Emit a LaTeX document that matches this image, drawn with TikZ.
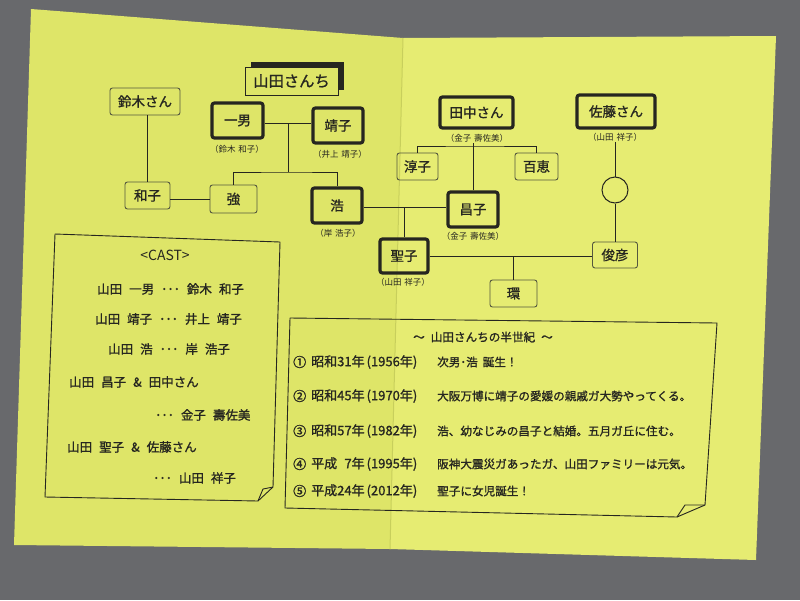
\documentclass[tikz,border=0pt]{standalone}
\usepackage{fontspec}
\newfontfamily\jp{Noto Sans CJK JP}
\newfontfamily\jpb[FakeBold=1.2]{Noto Sans CJK JP}
\usetikzlibrary{calc}
\definecolor{bg}{RGB}{104,105,108}
\definecolor{paperL}{RGB}{222,229,104}
\definecolor{paperR}{RGB}{230,236,114}
\definecolor{foldc}{RGB}{200,207,92}
\definecolor{ink}{RGB}{38,38,32}
\definecolor{thin}{RGB}{85,88,62}
\newcommand\jgap{\hspace{7pt}}
\begin{document}
\begin{tikzpicture}[x=1pt,y=-1pt,
  thickbox/.style={draw=ink, line width=3.2pt, rounded corners=2.5pt, inner sep=0pt, font=\jpb\fontsize{13.5}{14}\selectfont, text=ink},
  thinbox/.style={draw=thin, line width=0.9pt, rounded corners=2.5pt, inner sep=0pt, font=\jpb\fontsize{13.5}{14}\selectfont, text=ink},
  titlebox/.style={draw=ink, line width=0.9pt, inner sep=0pt, font=\jpb\fontsize{15.3}{16}\selectfont, text=ink, fill=paperL},
  sub/.style={font=\jp\fontsize{8.5}{9}\selectfont, text=ink, inner sep=1pt},
  link/.style={draw=ink, line width=1pt},
  castline/.style={anchor=west, font=\jpb\fontsize{12.5}{13}\selectfont, text=ink, inner sep=0pt},
  evt/.style={anchor=west, font=\jpb\fontsize{11.6}{12}\selectfont, text=ink, inner sep=0pt},
  evdate/.style={anchor=west, font=\jpb\fontsize{13}{14}\selectfont, text=ink, inner sep=0pt},
  sheet/.style={draw=ink, line width=0.9pt, line join=round},
]
\useasboundingbox (0,0) rectangle (800,600);
\fill[bg] (0,0) rectangle (800,600);
% paper
\fill[paperL] (31,9) -- (403,38) -- (390,549) -- (14,545) -- cycle;
\fill[paperR] (403,38) -- (776,36) -- (756,560) -- (390,549) -- cycle;
\draw[foldc, line width=1pt] (403,38) -- (390,549);

% title
\fill[ink] (251,62) rectangle (344,90);
\node[titlebox, minimum width=93pt, minimum height=28pt] (title) at (291.5,81) {山田さんち};

% family nodes
\node[thinbox, minimum width=70pt, minimum height=27pt] (suzuki) at (145,101.5) {鈴木さん};
\node[thickbox, minimum width=51pt, minimum height=35pt] (kazuo) at (237.5,120.5) {一男};
\node[thickbox, minimum width=50pt, minimum height=35pt] (yasuko) at (338,125.5) {靖子};
\node[thinbox, minimum width=45pt, minimum height=27pt] (kazuko) at (147.5,195.5) {和子};
\node[thinbox, minimum width=47pt, minimum height=28pt] (tsuyoshi) at (233.5,199) {強};
\node[thickbox, minimum width=50pt, minimum height=35pt] (hiroshi) at (337,205.5) {浩};
\node[thickbox, minimum width=73pt, minimum height=31pt] (tanaka) at (476.5,112.5) {田中さん};
\node[thinbox, minimum width=41pt, minimum height=27pt] (junko) at (417.5,166.5) {淳子};
\node[thinbox, minimum width=43pt, minimum height=27pt] (momoe) at (536.5,166.5) {百恵};
\node[thickbox, minimum width=50pt, minimum height=35pt] (masako) at (473,209.5) {昌子};
\node[thickbox, minimum width=78pt, minimum height=33pt] (sato) at (616,111.5) {佐藤さん};
\node[draw=ink, line width=1pt, circle, minimum size=26pt, inner sep=0pt] (ring) at (615,190) {};
\node[thinbox, minimum width=45pt, minimum height=26pt] (toshihiko) at (615,255) {俊彦};
\node[thickbox, minimum width=48pt, minimum height=34pt] (seiko) at (404,256) {聖子};
\node[thinbox, minimum width=47pt, minimum height=27pt] (tamaki) at (513.5,293.5) {環};

% subtitles
\node[sub] (kazuosub) at (237,149) {（鈴木\hspace{3pt}和子）};
\node[sub] (yasukosub) at (340,154) {（井上\hspace{3pt}靖子）};
\node[sub] (hiroshisub) at (338,233) {（岸\hspace{3pt}浩子）};
\node[sub] (tanakasub) at (477,138) {（金子\hspace{3pt}壽佐美）};
\node[sub] (masakosub) at (473,236) {（金子\hspace{3pt}壽佐美）};
\node[sub] (seikosub) at (403,282) {（山田\hspace{3pt}祥子）};
\node[sub] (satosub) at (615,137) {（山田\hspace{3pt}祥子）};

% junction coordinates
\coordinate (m1) at (288,123);
\coordinate (m2) at (288,172);
\coordinate (m3) at (404,207);
\coordinate (m4) at (473,146);
\coordinate (m5) at (513.5,256);

% connectors
\draw[link] (m1 -| kazuo.east) -- (m1 -| yasuko.west);
\draw[link] (m1) -- (m2);
\draw[link] (tsuyoshi.north) |- (m2) -| (hiroshi.north);
\draw[link] (kazuko.north) -- (kazuko.north |- suzuki.south);
\draw[link] (kazuko.east |- tsuyoshi.west) -- (tsuyoshi.west);
\draw[link] (hiroshi.east |- m3) -- (m3 -| masako.west);
\draw[link] (m3) -- (seiko.north);
\draw[link] (masako.north) -- (masako.north |- tanakasub.south);
\draw[link] (junko.north) |- (m4) -| (momoe.north);
\draw[link] (satosub.south) -- (ring.north);
\draw[link] (ring.south) -- (toshihiko.north);
\draw[link] (seiko.east) -- (seiko.east -| toshihiko.west);
\draw[link] (m5) -- (tamaki.north);

% CAST sheet
\draw[sheet] (273,487) -- (280,242) -- (55,234) -- (45,497) -- (258,501);
\draw[sheet] (273,487) -- (263,489) -- (258,501);
\draw[sheet] (273,487) -- (258,501);
\node[font=\jp\fontsize{14}{15}\selectfont, text=ink, inner sep=0pt] (cast0) at (165,255) {<CAST>};
\node[castline] (cast1) at (97,289) {山田\jgap 一男\jgap ･･･\jgap 鈴木\jgap 和子};
\node[castline] (cast2) at (95,319) {山田\jgap 靖子\jgap ･･･\jgap 井上\jgap 靖子};
\node[castline] (cast3) at (108,349) {山田\jgap 浩\jgap ･･･\jgap 岸\jgap 浩子};
\node[castline] (cast4) at (69,382) {山田\jgap 昌子\jgap \&\jgap 田中さん};
\node[castline] (cast5) at (155,415) {･･･\jgap 金子\jgap 壽佐美};
\node[castline] (cast6) at (67,447) {山田\jgap 聖子\jgap \&\jgap 佐藤さん};
\node[castline] (cast7) at (153,478) {･･･\jgap 山田\jgap 祥子};

% events sheet
\draw[sheet] (705,505) -- (717,323) -- (290,318) -- (285,508) -- (677,517);
\draw[sheet] (705,505) -- (685,505) -- (677,517);
\draw[sheet] (705,505) -- (677,517);
\node[font=\jpb\fontsize{11.6}{12}\selectfont, text=ink, inner sep=0pt] (evt0) at (483,337) {～\hspace{6pt}山田さんちの半世紀\hspace{6pt}～};
\node[evdate] (n1) at (293,362) {①};
\node[evdate] (d1) at (311,362) {昭和31年\hspace{2pt}(1956年)};
\node[evt] (e1) at (437,362) {次男･浩\hspace{5pt}誕生！};
\node[evdate] (n2) at (293,396) {②};
\node[evdate] (d2) at (311,396) {昭和45年\hspace{2pt}(1970年)};
\node[evt] (e2) at (437,396) {大阪万博に靖子の愛媛の親戚ガ大勢やってくる。};
\node[evdate] (n3) at (293,431) {③};
\node[evdate] (d3) at (311,431) {昭和57年\hspace{2pt}(1982年)};
\node[evt] (e3) at (437,431) {浩、幼なじみの昌子と結婚。五月ガ丘に住む。};
\node[evdate] (n4) at (293,464) {④};
\node[evdate] (d4) at (311,464) {平成\phantom{2}7年\hspace{2pt}(1995年)};
\node[evt] (e4) at (437,464) {阪神大震災ガあったガ、山田ファミリーは元気。};
\node[evdate] (n5) at (293,491) {⑤};
\node[evdate] (d5) at (311,491) {平成24年\hspace{2pt}(2012年)};
\node[evt] (e5) at (437,491) {聖子に女児誕生！};
\end{tikzpicture}
\end{document}
